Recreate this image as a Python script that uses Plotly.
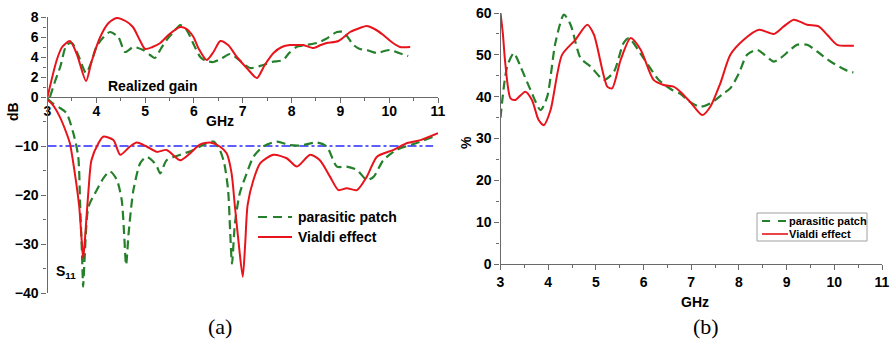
import plotly.graph_objects as go

W, H = 895, 346

# ---- (a) realized gain (dB) ----
gain_f_vialdi = [3.0, 3.19, 3.3, 3.46, 3.6, 3.79, 3.9, 4.08, 4.25, 4.42, 4.6, 4.75, 4.9, 5.0, 5.15,
                 5.31, 5.5, 5.72, 5.85, 5.99, 6.1, 6.26, 6.4, 6.54, 6.7, 6.88, 7.1, 7.29, 7.45, 7.63,
                 7.8, 7.97, 8.1, 8.24, 8.45, 8.6, 8.72, 8.96, 9.2, 9.4, 9.54, 9.7, 9.88, 10.05, 10.22, 10.43]
gain_vialdi = [0.0, 3.7, 5.0, 5.6, 4.3, 1.6, 3.5, 6.0, 7.4, 7.9, 7.6, 7.0, 5.6, 4.8, 5.0,
               5.4, 6.3, 7.0, 6.8, 6.0, 4.8, 3.7, 4.5, 5.6, 5.2, 4.0, 2.8, 1.9, 3.2, 4.4,
               5.0, 5.2, 5.2, 5.2, 4.9, 5.2, 5.4, 5.6, 6.5, 6.9, 7.1, 6.8, 6.2, 5.5, 5.0, 5.0]

gain_f_patch = [3.05, 3.15, 3.26, 3.39, 3.5, 3.62, 3.79, 3.9, 4.0, 4.15, 4.28, 4.45, 4.59, 4.76, 4.96,
                5.1, 5.2, 5.32, 5.44, 5.6, 5.72, 5.85, 6.0, 6.13, 6.25, 6.4, 6.55, 6.74, 6.95, 7.15,
                7.42, 7.6, 7.83, 7.95, 8.1, 8.3, 8.52, 8.7, 8.93, 9.06, 9.27, 9.4, 9.54, 9.75, 9.9,
                10.02, 10.2, 10.39]
gain_patch = [0.0, 1.5, 3.0, 5.2, 5.4, 4.3, 2.4, 3.5, 5.0, 6.0, 6.5, 6.0, 4.5, 5.0, 4.7,
              4.2, 3.9, 4.8, 5.7, 6.6, 7.2, 6.7, 5.2, 4.0, 3.6, 3.5, 3.8, 4.3, 3.6, 2.9,
              3.2, 3.5, 3.7, 4.4, 5.0, 5.2, 5.4, 5.8, 6.5, 6.5, 5.2, 4.8, 4.7, 4.4, 4.6,
              4.7, 4.4, 4.1]

# ---- (a) S11 (dB) ----
s11_f_vialdi = [3.0, 3.1, 3.25, 3.39, 3.46, 3.56, 3.65, 3.7, 3.73, 3.76, 3.79, 3.84, 3.9, 4.04, 4.14,
                4.35, 4.49, 4.69, 4.83, 5.03, 5.24, 5.44, 5.72, 5.92, 6.12, 6.33, 6.53, 6.67, 6.77,
                6.84, 6.91, 7.0, 7.05, 7.1, 7.22, 7.36, 7.63, 7.9, 8.11, 8.38, 8.58, 8.79, 8.96,
                9.13, 9.34, 9.54, 9.75, 10.09, 10.37, 10.64, 11.0]
s11_vialdi = [-0.6, -1.5, -4.0, -7.4, -9.5, -15.6, -22.4, -29.2, -33.0, -30.0, -25.8, -19.0, -12.9, -9.5, -8.1,
              -8.8, -11.8, -10.1, -9.3, -10.1, -11.2, -10.8, -12.9, -11.5, -9.7, -9.3, -10.1, -11.5, -15.5,
              -22.4, -29.2, -36.7, -30.0, -22.0, -16.9, -13.5, -11.8, -12.5, -14.2, -11.8, -12.9, -16.3, -19.0,
              -18.6, -19.0, -16.3, -12.2, -10.8, -9.4, -8.8, -7.4]

s11_f_patch = [3.0, 3.12, 3.25, 3.39, 3.53, 3.63, 3.67, 3.71, 3.73, 3.76, 3.84, 4.01, 4.15, 4.28, 4.42,
               4.52, 4.57, 4.61, 4.66, 4.72, 4.76, 4.9, 5.03, 5.15, 5.24, 5.31, 5.44, 5.72, 5.99,
               6.26, 6.4, 6.53, 6.62, 6.7, 6.74, 6.78, 6.84, 6.94, 7.08, 7.22, 7.42, 7.7, 7.95,
               8.18, 8.52, 8.72, 8.93, 9.13, 9.34, 9.54, 9.68, 9.88, 10.15, 10.56, 10.9]
s11_patch = [-0.3, -1.4, -2.2, -3.3, -7.4, -12.2, -22.4, -33.0, -38.7, -33.0, -22.4, -19.0, -16.5, -15.2, -16.9,
             -21.0, -28.0, -34.3, -28.0, -22.0, -19.0, -13.5, -12.2, -13.0, -14.2, -15.6, -12.9, -11.8, -10.8,
             -9.4, -9.1, -10.8, -13.5, -19.0, -27.0, -34.0, -25.8, -19.6, -15.6, -12.2, -10.1, -9.1, -9.8,
             -9.9, -9.3, -10.1, -14.2, -14.2, -14.9, -16.9, -16.3, -12.9, -10.8, -9.4, -8.1]

ref_f = [3.0, 10.9]
ref_level = [-10, -10]

# ---- (b) efficiency (%) ----
eff_f_vialdi = [3.0, 3.05, 3.1, 3.21, 3.31, 3.52, 3.66, 3.8, 3.91, 4.05, 4.29, 4.57, 4.82, 4.96, 5.24,
                5.34, 5.52, 5.73, 5.94, 6.21, 6.42, 6.63, 6.77, 6.98, 7.23, 7.4, 7.61, 7.82, 8.1,
                8.42, 8.73, 8.94, 9.15, 9.43, 9.67, 9.85, 10.06, 10.41]
eff_vialdi = [60.0, 55.0, 48.0, 39.6, 39.2, 41.2, 39.2, 34.4, 33.2, 36.8, 50.0, 53.6, 57.2, 54.8, 42.4,
              42.0, 48.8, 54.0, 51.2, 44.0, 42.8, 42.4, 41.2, 38.7, 35.6, 37.6, 43.2, 50.0, 53.6,
              56.0, 55.0, 56.8, 58.4, 57.2, 56.8, 54.8, 52.4, 52.2]

eff_f_patch = [3.0, 3.14, 3.28, 3.42, 3.63, 3.84, 3.98, 4.15, 4.33, 4.47, 4.68, 4.89, 5.17, 5.38, 5.58,
               5.69, 6.0, 6.32, 6.6, 6.77, 6.98, 7.19, 7.4, 7.68, 7.82, 8.0, 8.17, 8.38, 8.73,
               8.87, 9.22, 9.43, 9.64, 9.92, 10.27, 10.4]
eff_patch = [35.0, 47.2, 50.4, 47.2, 41.6, 36.8, 40.0, 52.8, 59.6, 57.2, 49.2, 47.2, 44.0, 46.0, 52.8,
             54.0, 49.2, 44.0, 41.6, 40.7, 38.7, 37.6, 38.4, 40.8, 42.0, 45.6, 50.0, 51.2, 48.4,
             49.2, 52.4, 52.4, 50.8, 48.4, 46.2, 45.8]

series_names = ["parasitic patch", "Vialdi effect"]

x_ticks = [3, 4, 5, 6, 7, 8, 9, 10, 11]
gain_ticks = [0, 2, 4, 6, 8]
s11_ticks = [-10, -20, -30, -40]
eff_ticks = [0, 10, 20, 30, 40, 50, 60]

RED = "#e8141c"
GREEN = "#24802a"
BLUE = "#2a2aff"
AXIS = "#6a6a6a"
FONT = "Liberation Sans"


def px_x(p):
    return p / W


def px_y(p):
    return 1 - p / H


green_line = dict(color=GREEN, width=2.2, dash="9px,5px", shape="spline", smoothing=0.7)
red_line = dict(color=RED, width=2, shape="spline", smoothing=0.7)

fig = go.Figure()

# (a) gain
fig.add_trace(go.Scatter(x=gain_f_patch, y=gain_patch, xaxis="x", yaxis="y", mode="lines",
                         line=green_line, name=series_names[0]))
fig.add_trace(go.Scatter(x=gain_f_vialdi, y=gain_vialdi, xaxis="x", yaxis="y", mode="lines",
                         line=red_line, name=series_names[1]))
# (a) S11 with the -10 dB reference
fig.add_trace(go.Scatter(x=ref_f, y=ref_level, xaxis="x", yaxis="y2", mode="lines",
                         line=dict(color=BLUE, width=1.6, dash="dashdot"), name="-10 dB"))
fig.add_trace(go.Scatter(x=s11_f_patch, y=s11_patch, xaxis="x", yaxis="y2", mode="lines",
                         line=green_line, name=series_names[0]))
fig.add_trace(go.Scatter(x=s11_f_vialdi, y=s11_vialdi, xaxis="x", yaxis="y2", mode="lines",
                         line=red_line, name=series_names[1]))
# (b) efficiency
fig.add_trace(go.Scatter(x=eff_f_patch, y=eff_patch, xaxis="x2", yaxis="y3", mode="lines",
                         line=green_line, name=series_names[0]))
fig.add_trace(go.Scatter(x=eff_f_vialdi, y=eff_vialdi, xaxis="x2", yaxis="y3", mode="lines",
                         line=red_line, name=series_names[1]))

tickfont = dict(family=FONT, size=14, color="black", weight="bold")
common_axis = dict(showline=True, linecolor=AXIS, linewidth=1.3, ticks="outside", ticklen=5,
                   tickcolor=AXIS, tickwidth=1.2, showgrid=False, zeroline=False,
                   automargin=False, tickfont=tickfont)
minor = dict(ticks="outside", ticklen=3, tickcolor=AXIS, tickwidth=1, showgrid=False)

fig.update_layout(
    width=W, height=H,
    margin=dict(l=0, r=0, t=0, b=0, autoexpand=False),
    showlegend=False,
    paper_bgcolor="white", plot_bgcolor="rgba(0,0,0,0)",
    xaxis=dict(domain=[px_x(47.5), px_x(438)], range=[3, 11], anchor="y",
               tickvals=x_ticks, minor=dict(dtick=0.5, **minor), ticklabelstandoff=-4,
               **common_axis),
    yaxis=dict(domain=[px_y(97), px_y(17)], range=[0, 8], anchor="x",
               tickvals=gain_ticks, minor=dict(dtick=1, **minor), **common_axis),
    yaxis2=dict(domain=[px_y(293), px_y(97)], range=[-40, 0], anchor="x",
                tickvals=s11_ticks, minor=dict(dtick=5, **minor), **common_axis),
    xaxis2=dict(domain=[px_x(500.5), px_x(882)], range=[3, 11], anchor="y3",
                tickvals=x_ticks, minor=dict(dtick=0.5, **minor), **common_axis),
    yaxis3=dict(domain=[px_y(264), px_y(13)], range=[0, 60], anchor="x2",
                tickvals=eff_ticks, minor=dict(dtick=5, **minor), **common_axis),
)


def label(text, x, y, size=14, angle=0, family=FONT, weight="bold", xanchor="center"):
    fig.add_annotation(text=text, x=px_x(x), y=px_y(y), xref="paper", yref="paper",
                       showarrow=False, textangle=angle, xanchor=xanchor, yanchor="middle",
                       font=dict(family=family, size=size, color="black", weight=weight))


def legend_key(x0, x1, y, style, width):
    fig.add_shape(type="line", xref="paper", yref="paper",
                  x0=px_x(x0), x1=px_x(x1), y0=px_y(y), y1=px_y(y),
                  line=dict(color=style["color"], width=width, dash=style.get("dash", "solid")))


# legend of (a)
legend_key(258, 292, 217, dict(color=GREEN, dash="9px,6px"), 2.2)
legend_key(258, 292, 237, dict(color=RED), 2)
label(series_names[0], 296, 217, size=14, xanchor="left")
label(series_names[1], 296, 237, size=14, xanchor="left")

# boxed legend of (b)
fig.add_shape(type="rect", xref="paper", yref="paper",
              x0=px_x(757), x1=px_x(867), y0=px_y(241), y1=px_y(213),
              line=dict(color="#a0a0a0", width=1), fillcolor="white", layer="above")
legend_key(762, 788, 221, dict(color=GREEN, dash="8px,8px"), 1.8)
legend_key(762, 788, 234, dict(color=RED), 1.6)
label(series_names[0], 787, 221, size=11, xanchor="left")
label(series_names[1], 787, 234, size=11, xanchor="left")

label("Realized gain", 152, 86)
label("GHz", 220, 121)
label("dB", 13, 112, angle=-90)
label("S<sub>11</sub>", 66, 272)
label("GHz", 695, 302)
label("%", 466, 143, angle=-90)
label("(a)", 220, 326, size=22, family="Liberation Serif", weight="normal")
label("(b)", 706, 326, size=22, family="Liberation Serif", weight="normal")

fig.write_html("out.html")
